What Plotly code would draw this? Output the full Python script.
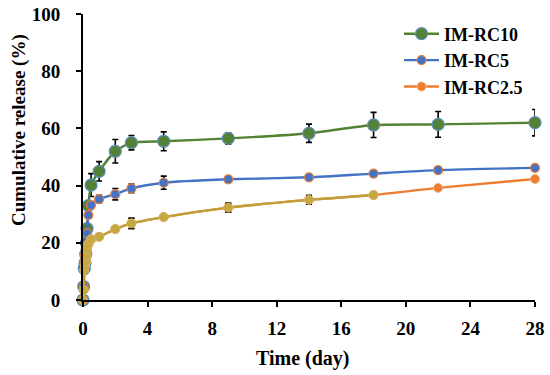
import plotly.graph_objects as go

time_days = [0, 0.04, 0.08, 0.125, 0.17, 0.21, 0.25, 0.33, 0.5, 1, 2, 3, 5, 9, 14, 18, 22, 28]

rc10 = [0, 4.7, 11, 13, 16, 20, 25, 33, 40.2, 45.0, 52.0, 55.0, 55.5, 56.5, 58.3, 61.2, 61.4, 62.0]
rc10_err = [0, 0.5, 0.8, 0.8, 1, 1, 1, 1.5, 4.0, 3.4, 4.1, 2.5, 3.3, 2.0, 3.2, 4.4, 4.5, 4.6]

rc5 = [0, 4.7, 13.4, 15.7, 18.0, 21.0, 23.3, 29.7, 33.2, 35.3, 37.0, 39.0, 41.0, 42.2, 42.9, 44.2, 45.4, 46.2]
rc5_err = [0, 0, 0, 0, 0, 0, 0, 0, 1.0, 1.3, 2.0, 1.5, 2.3, 1.0, 1.0, 1.0, 0.6, 0.6]

rc25 = [0, 3.5, 10.5, 12.0, 13.4, 15.5, 17.5, 19.5, 21.2, 22.1, 24.8, 26.8, 29.0, 32.3, 35.0, 36.7, 39.2, 42.3]
rc25_err = [0, 0, 1.2, 0, 0, 0, 0, 0, 0, 0.5, 0.8, 1.8, 0.6, 1.5, 1.5, 0.5, 0.5, 0.5]

y_ticks = [0, 20, 40, 60, 80, 100]
x_ticks = [0, 4, 8, 12, 16, 20, 24, 28]

FONT = "Liberation Serif"
W, H = 550, 375
ML, MR, MT, MB = 83, 15, 14, 75
PW, PH = W - ML - MR, H - MT - MB

fig = go.Figure()

def err(vals):
    return dict(type="data", array=vals, visible=True, color="black", thickness=1.6, width=3)

# IM-RC10 (green) - drawn first (bottom)
fig.add_trace(go.Scatter(
    x=time_days, y=rc10, name="<b>IM-RC10</b>", mode="lines+markers",
    line=dict(color="#548235", width=2.4, shape="spline", smoothing=0.6),
    marker=dict(size=12, color="#548235", line=dict(color="#5B8DB8", width=1.2)),
    error_y=err(rc10_err), cliponaxis=False,
))

# IM-RC5 (blue)
fig.add_trace(go.Scatter(
    x=time_days, y=rc5, name="<b>IM-RC5</b>", mode="lines+markers",
    line=dict(color="#4472C4", width=2.4, shape="spline", smoothing=0.6),
    marker=dict(size=9, color="#4472C4", line=dict(color="#ED7D31", width=1.2)),
    error_y=err(rc5_err), cliponaxis=False,
))

# IM-RC2.5 (orange, with olive early segment)
fig.add_trace(go.Scatter(
    x=time_days, y=rc25, name="<b>IM-RC2.5</b>", mode="lines+markers",
    line=dict(color="#ED7D31", width=2.4, shape="spline", smoothing=0.6),
    marker=dict(size=9, color="#ED7D31", line=dict(color="#F4B183", width=1)),
    error_y=err(rc25_err), cliponaxis=False,
))
n_olive = time_days.index(18) + 1
fig.add_trace(go.Scatter(
    x=time_days[:n_olive], y=rc25[:n_olive], showlegend=False,
    mode="lines+markers",
    line=dict(color="#C0A038", width=2.4, shape="spline", smoothing=0.6),
    marker=dict(size=9, color="#C4A840", line=dict(color="#D9B060", width=1)),
    error_y=err(rc25_err[:n_olive]), cliponaxis=False,
))

# axis titles as annotations (pixel-placed)
fig.add_annotation(
    text="<b>Cumulative release (%)</b>", textangle=-90, showarrow=False,
    xref="paper", yref="paper",
    x=(19 - ML) / PW, y=(H - MB - 130) / PH, xanchor="center", yanchor="middle",
    font=dict(family=FONT, size=19, color="black"),
)
fig.add_annotation(
    text="<b>Time (day)</b>", showarrow=False,
    xref="paper", yref="paper",
    x=(303 - ML) / PW, y=(H - MB - 358) / PH, xanchor="center", yanchor="middle",
    font=dict(family=FONT, size=20, color="black"),
)

fig.update_layout(
    width=W, height=H,
    margin=dict(l=ML, r=MR, t=MT, b=MB, autoexpand=False),
    paper_bgcolor="white", plot_bgcolor="white",
    font=dict(family=FONT, size=15, color="black"),
    showlegend=True,
    legend=dict(
        x=(399 - ML) / PW, y=1 - 15.5 / H, yref="container", xanchor="left", yanchor="top",
        font=dict(family=FONT, size=18, color="black"),
        bgcolor="rgba(0,0,0,0)", itemwidth=35, tracegroupgap=0,
    ),
    xaxis=dict(
        range=[0, 28], tickvals=x_ticks, ticktext=[f"<b>{v}</b>" for v in x_ticks],
        showgrid=False, zeroline=False, showline=True, linecolor="black", linewidth=2,
        ticks="outside", ticklen=5, tickwidth=2, tickcolor="black", automargin=False,
        ticklabelstandoff=5, ticklabeloverflow="allow",
        tickfont=dict(family=FONT, size=19, color="black"),
    ),
    yaxis=dict(
        range=[0, 100], tickvals=y_ticks, ticktext=[f"<b>{v}</b>" for v in y_ticks],
        showgrid=False, zeroline=False, showline=True, linecolor="black", linewidth=2,
        ticks="outside", ticklen=5, tickwidth=2, tickcolor="black", automargin=False,
        ticklabelstandoff=12, ticklabeloverflow="allow",
        tickfont=dict(family=FONT, size=19, color="black"),
    ),
)

fig.write_html("out.html", config={"displayModeBar": False},
               post_script="document.body.style.margin='0';")
